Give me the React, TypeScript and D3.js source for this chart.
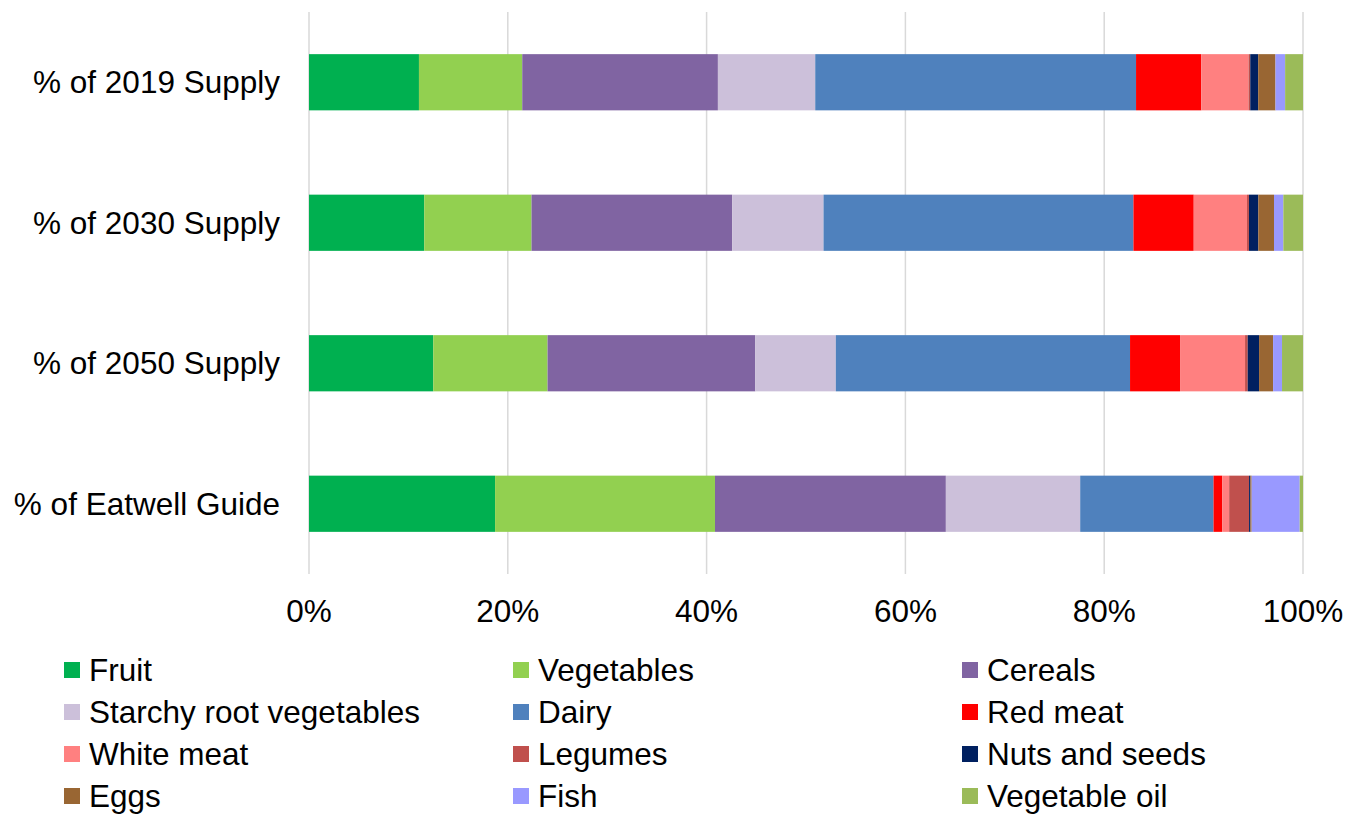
import React from "react";
import * as d3 from "d3";

const categories = ["% of 2019 Supply", "% of 2030 Supply", "% of 2050 Supply", "% of Eatwell Guide"];
const seriesNames = ["Fruit", "Vegetables", "Cereals", "Starchy root vegetables", "Dairy", "Red meat", "White meat", "Legumes", "Nuts and seeds", "Eggs", "Fish", "Vegetable oil"];
const seriesColors = ["#00B050", "#92D050", "#8064A2", "#CCC0DA", "#4F81BD", "#FF0000", "#FF8080", "#C0504D", "#002060", "#996633", "#9999FF", "#9BBB59"];
const fruit = [11.07, 11.6, 12.5, 18.7];
const vegetables = [10.4, 10.8, 11.5, 22.1];
const cereals = [19.7, 20.2, 20.9, 23.2];
const starchy = [9.8, 9.2, 8.1, 13.5];
const dairy = [32.3, 31.2, 29.6, 13.4];
const redMeat = [6.57, 6.07, 5.03, 0.87];
const whiteMeat = [4.76, 5.36, 6.54, 0.7];
const legumes = [0.17, 0.2, 0.27, 2.0];
const nuts = [0.8, 0.94, 1.14, 0.13];
const eggs = [1.74, 1.58, 1.41, 0.13];
const fish = [0.97, 0.94, 0.9, 4.83];
const vegOil = [1.8, 1.98, 2.11, 0.33];
const tickValues = [0, 0.2, 0.4, 0.6, 0.8, 1.0];

const seriesValues = [fruit, vegetables, cereals, starchy, dairy, redMeat, whiteMeat, legumes, nuts, eggs, fish, vegOil];

export default function App() {
  const W = 1361, H = 814;
  const left = 309, right = 1303, top = 12, bottom = 574;
  const font = "'Liberation Sans', Arial, sans-serif";
  const fs = 31.5;

  const rows = categories.map((c, i) => {
    const o: any = { cat: c };
    seriesNames.forEach((s, j) => (o[s] = seriesValues[j][i]));
    return o;
  });
  const series = d3.stack<any>().keys(seriesNames).offset(d3.stackOffsetExpand)(rows);

  const x = d3.scaleLinear().domain([0, 1]).range([left, right]);
  const y = d3.scaleBand().domain(categories).range([top, bottom]).paddingInner(0.6).paddingOuter(0.3);
  const fmt = d3.format(".0%");

  const legendCols = [64, 513, 962];
  const legendRows = [670, 712, 754, 796];

  return (
    <svg width={W} height={H} style={{ position: "absolute", left: 0, top: 0, background: "#fff" }} fontFamily={font}>
      <rect width={W} height={H} fill="#fff" />
      {tickValues.map((t) => (
        <line key={t} x1={x(t)} x2={x(t)} y1={top} y2={bottom} stroke="#D9D9D9" strokeWidth={1.5} />
      ))}
      {series.map((s, j) => (
        <g key={s.key} fill={seriesColors[j]}>
          {s.map((d, i) => (
            <rect key={i} x={x(d[0])} y={y(categories[i])} width={Math.max(0, x(d[1]) - x(d[0]))} height={y.bandwidth()} />
          ))}
        </g>
      ))}
      {categories.map((c) => (
        <text key={c} x={280} y={(y(c) as number) + y.bandwidth() / 2} dy="0.35em" textAnchor="end" fontSize={fs} fill="#000">
          {c}
        </text>
      ))}
      {tickValues.map((t) => (
        <text key={t} x={x(t)} y={611} dy="0.35em" textAnchor="middle" fontSize={fs} fill="#000">
          {fmt(t)}
        </text>
      ))}
      {seriesNames.map((s, j) => {
        const col = j % 3, row = Math.floor(j / 3);
        const lx = legendCols[col], ly = legendRows[row];
        return (
          <g key={s}>
            <rect x={lx} y={ly - 8} width={16} height={16} fill={seriesColors[j]} />
            <text x={lx + 25} y={ly} dy="0.35em" fontSize={fs} fill="#000">{s}</text>
          </g>
        );
      })}
    </svg>
  );
}
